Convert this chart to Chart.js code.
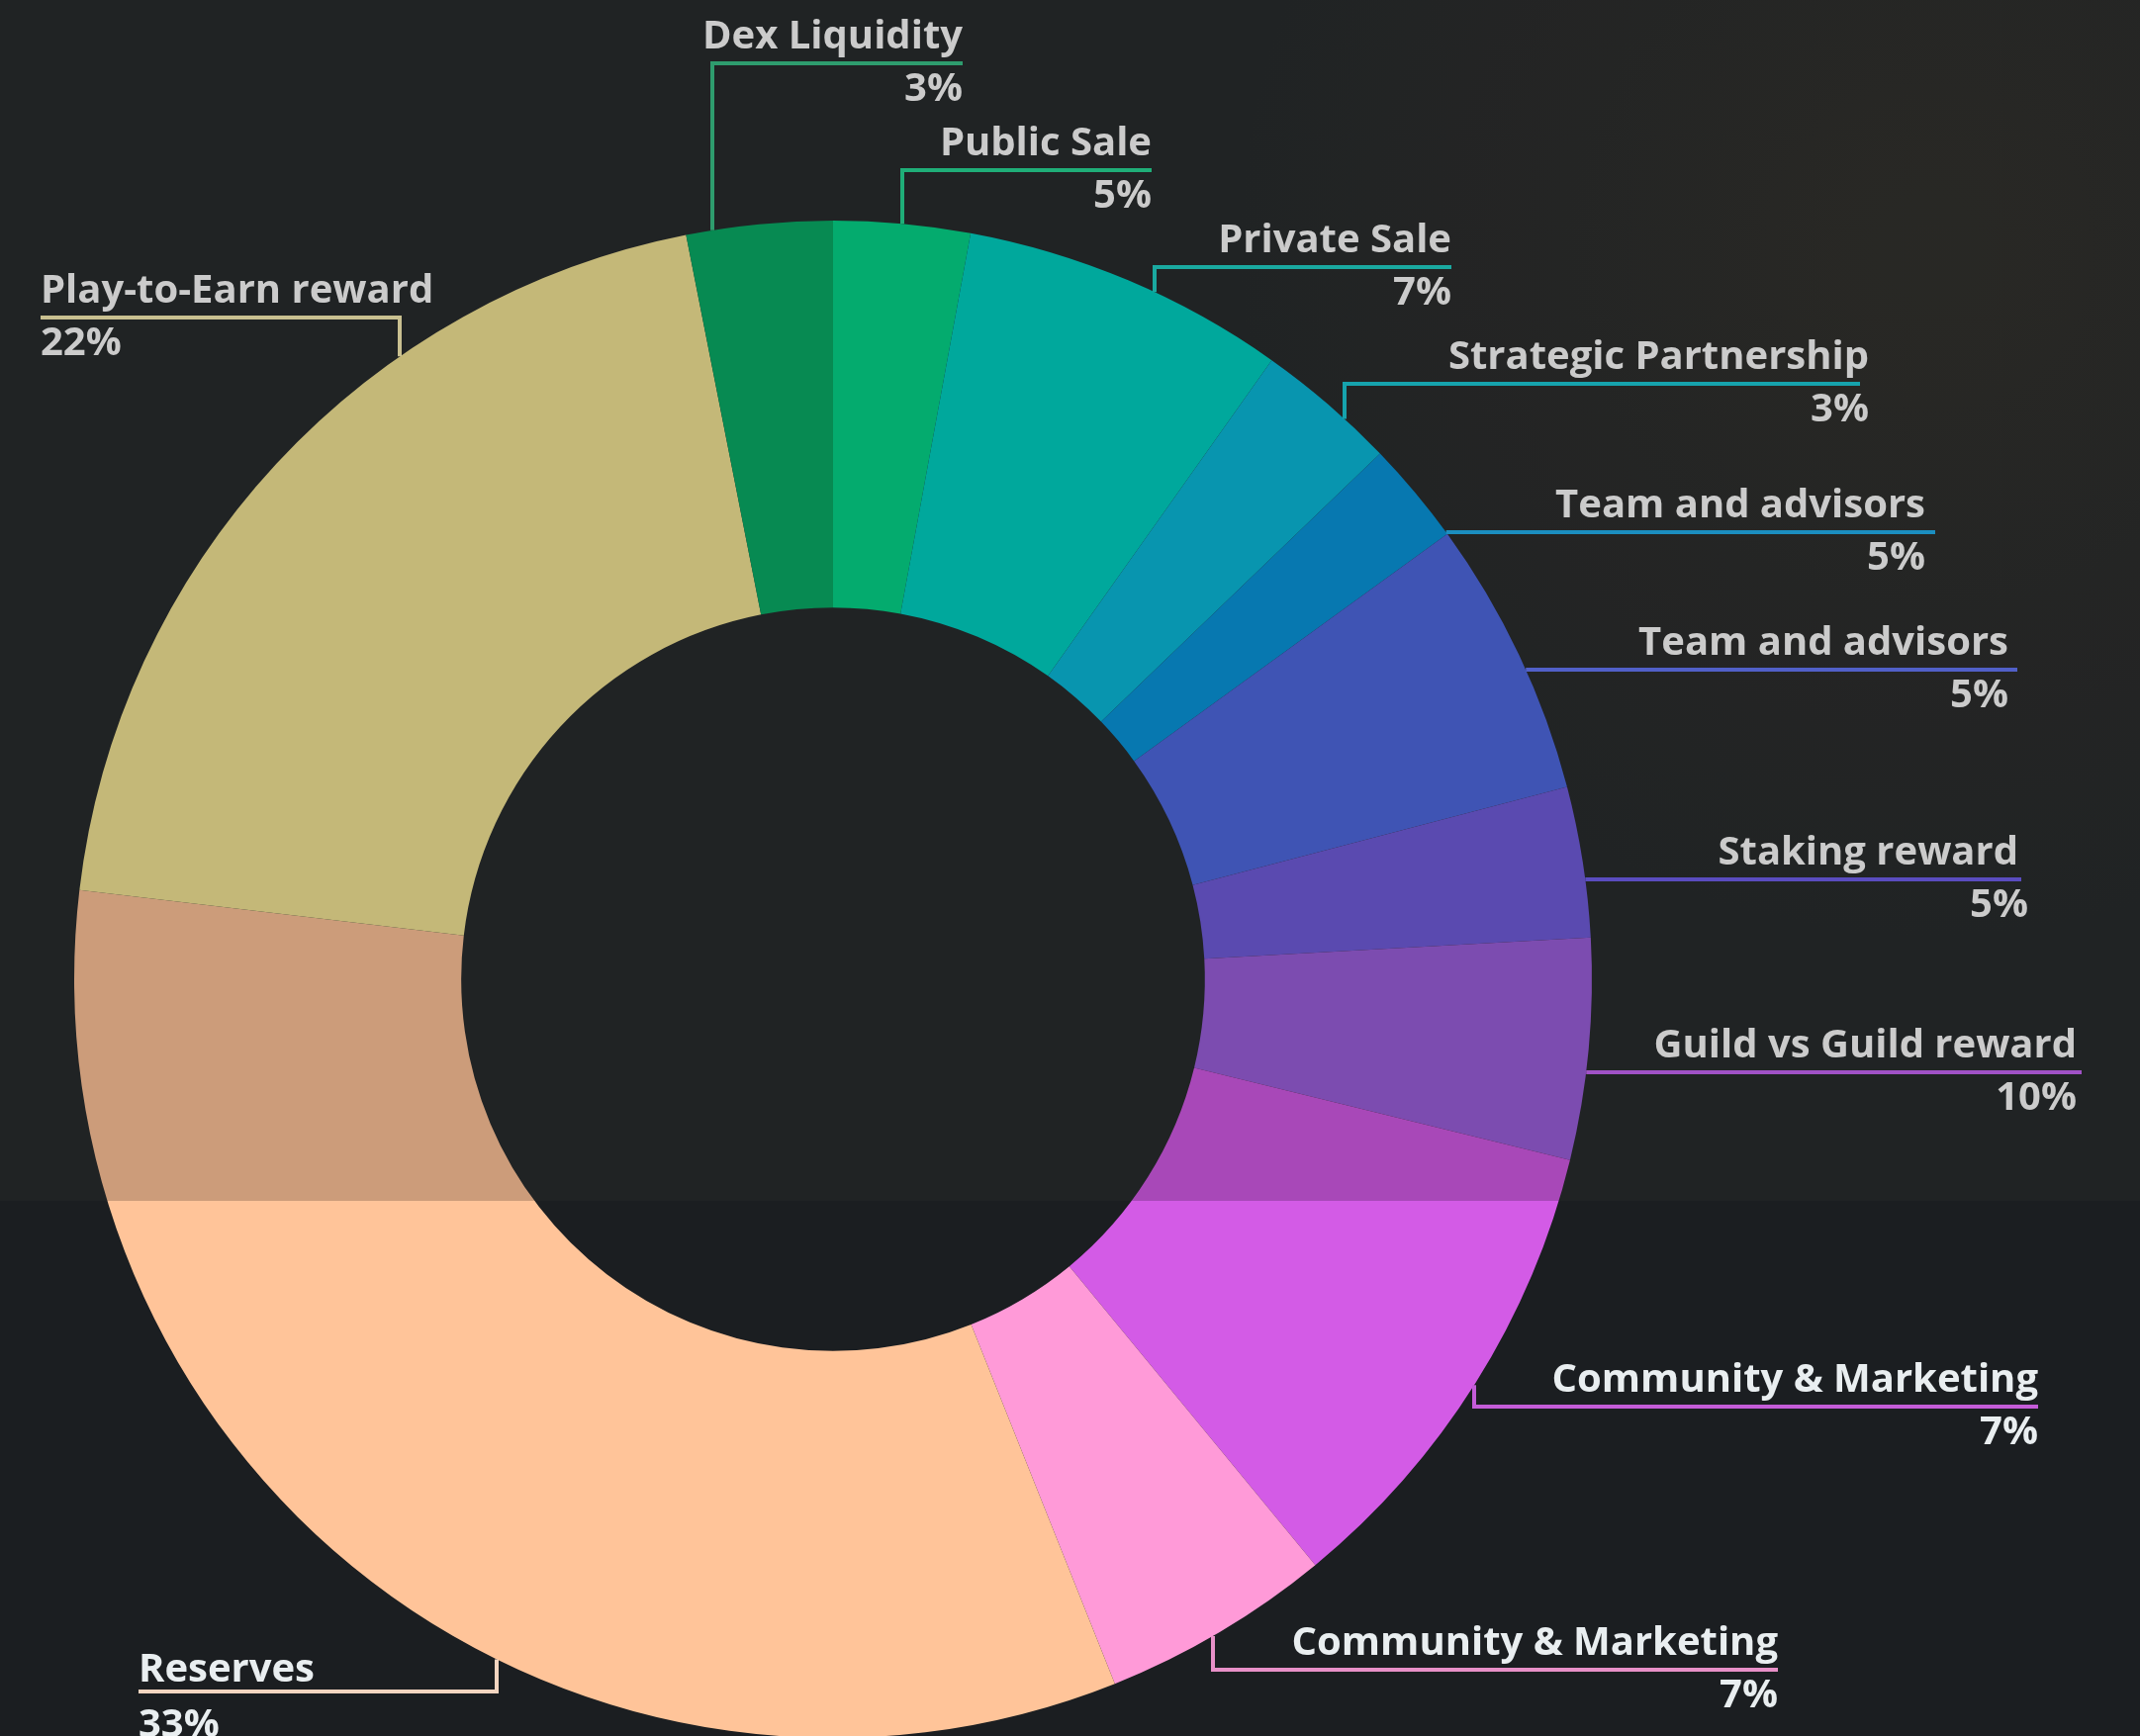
<!DOCTYPE html>
<html><head><meta charset="utf-8">
<script src="https://cdn.jsdelivr.net/npm/chart.js@4.4.1/dist/chart.umd.min.js"></script>
<style>
html,body{margin:0;padding:0;background:#1b1e21;overflow:hidden;}
#wrap{position:relative;width:2163px;height:1760px;}
</style></head><body>
<div id="wrap"><canvas id="c"></canvas></div>
<script>
// ---- data (slice sizes; printed percentages as shown) ----
const categories = ['Public Sale','Private Sale','Strategic Partnership','Team and advisors','Team and advisors','Staking reward','Guild vs Guild reward','Community & Marketing','Community & Marketing','Reserves','Play-to-Earn reward','Dex Liquidity'];
const sliceValues = [2.9, 6.9, 3.0, 2.2, 5.9, 3.2, 4.7, 10.2, 4.9, 32.9, 20.0, 3.1];
const labelPercents = ['5%','7%','3%','5%','5%','5%','10%','7%','7%','33%','22%','3%'];

// ---- styles ----
const sliceColors = ['#06d68a','#00d3c4','#0bbbdb','#0997dc','#4f6ae2','#715ddc','#9b5fdc','#d35be6','#ff9ad8','#ffc499','#f5e696','#09ad67'];
const lineColors  = ['#1fae78','#1aa9a0','#16a3ad','#1b8ec0','#5160c8','#5a4cc0','#a052c6','#c45cd8','#e890c8','#f3d5c0','#c9c090','#2e9c6e'];

// label layout: kind 'vr' = vertical stub + line to the right, text right-aligned
// 'h' = horizontal line from the arc edge, 'vl' = vertical stub + line to the left, text left-aligned
const layout = [
  {kind:'vr', vx:912,  y:172,  x2:1164},
  {kind:'vr', vx:1167, y:270,  x2:1467},
  {kind:'vr', vx:1359, y:388,  x2:1880, tx:1889},
  {kind:'h',           y:538,  x2:1956, tx:1946},
  {kind:'h',           y:677,  x2:2039, tx:2030},
  {kind:'h',           y:889,  x2:2043, tx:2040, px:2050},
  {kind:'vh', dummy:0, y:1084, x2:2104, tx:2099},
  {kind:'vr', vx:1490, y:1422, x2:2060},
  {kind:'vr', vx:1226, y:1688, x2:1797},
  {kind:'vl', vx:502,  y:1710, x1:140, tb:10, pb:46},
  {kind:'vl', vx:404,  y:321,  x1:41},
  {kind:'vr', vx:720,  y:64,   x2:973}
];
layout[6].kind = 'h';

const SPLIT_Y = 1214;

const decor = {
  id: 'decor',
  beforeDraw(chart) {
    const ctx = chart.ctx, W = chart.width, H = chart.height;
    ctx.save();
    ctx.fillStyle = '#292c2e';
    ctx.fillRect(0, 0, W, SPLIT_Y);
    const g = ctx.createRadialGradient(1950, 250, 20, 1950, 250, 700);
    g.addColorStop(0, 'rgba(70,62,48,0.35)');
    g.addColorStop(1, 'rgba(70,62,48,0)');
    ctx.fillStyle = g;
    ctx.fillRect(0, 0, W, SPLIT_Y);
    ctx.fillStyle = '#1b1e21';
    ctx.fillRect(0, SPLIT_Y, W, H - SPLIT_Y);
    ctx.restore();
  },
  afterDatasetsDraw(chart) {
    const ctx = chart.ctx;
    ctx.save();
    ctx.fillStyle = 'rgba(0,0,0,0.2)';
    ctx.fillRect(0, 0, chart.width, SPLIT_Y);
    ctx.restore();
  },
  afterDraw(chart) {
    const ctx = chart.ctx;
    const arc = chart.getDatasetMeta(0).data[0];
    const cx = arc.x, cy = arc.y, R = arc.outerRadius;
    ctx.save();
    ctx.lineWidth = 4;
    ctx.lineJoin = 'miter';
    ctx.font = 'bold 40px "Open Sans"';
    categories.forEach((name, i) => {
      const L = layout[i];
      ctx.strokeStyle = lineColors[i];
      ctx.beginPath();
      let textX, align;
      if (L.kind === 'h') {
        const ex = cx + Math.sqrt(Math.max(0, R*R - (L.y-cy)*(L.y-cy)));
        ctx.moveTo(ex, L.y);
        ctx.lineTo(L.x2, L.y);
        textX = L.x2; align = 'right';
      } else {
        const dy = Math.sqrt(Math.max(0, R*R - (L.vx-cx)*(L.vx-cx)));
        const ey = L.y < cy ? cy - dy : cy + dy;
        ctx.moveTo(L.vx, ey);
        ctx.lineTo(L.vx, L.y);
        if (L.kind === 'vr') { ctx.lineTo(L.x2, L.y); textX = L.x2; align = 'right'; }
        else { ctx.lineTo(L.x1, L.y); textX = L.x1; align = 'left'; }
      }
      ctx.stroke();
      ctx.fillStyle = L.y < SPLIT_Y ? '#cbcbcb' : '#e9eef0';
      ctx.textAlign = align;
      ctx.textBaseline = 'alphabetic';
      ctx.fillText(name, L.tx || textX, L.y - (L.tb || 15));
      ctx.fillText(labelPercents[i], L.px || L.tx || textX, L.y + (L.pb || 38));
    });
    ctx.restore();
  }
};

new Chart(document.getElementById('c'), {
  type: 'doughnut',
  data: {
    labels: categories,
    datasets: [{
      data: sliceValues,
      backgroundColor: sliceColors,
      borderWidth: 0,
      hoverOffset: 0
    }]
  },
  options: {
    responsive: true,
    maintainAspectRatio: false,
    animation: false,
    devicePixelRatio: 1,
    cutout: '49%',
    rotation: 0,
    layout: { padding: { left: 75, top: 223, right: 554, bottom: 3 } },
    plugins: { legend: { display: false }, tooltip: { enabled: false }, title: { display: false } }
  },
  plugins: [decor]
});
</script>
</body></html>
